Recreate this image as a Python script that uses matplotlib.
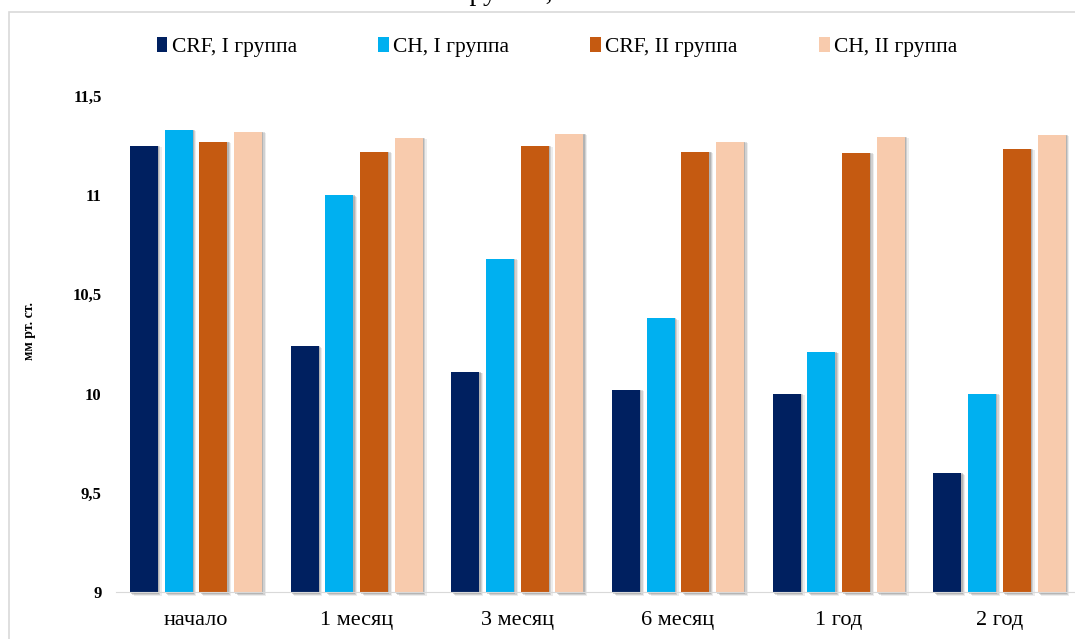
import numpy as np
import matplotlib.pyplot as plt
from matplotlib.patches import Rectangle

plt.rcParams['font.family'] = ['Liberation Serif', 'DejaVu Serif']

periods = ["начало", "1 месяц", "3 месяц", "6 месяц", "1 год", "2 год"]
series_names = ["CRF, I группа", "CH, I группа", "CRF, II группа", "CH, II группа"]
crf_1 = [11.25, 10.24, 10.11, 10.02, 10.00, 9.60]
ch_1 = [11.33, 11.00, 10.68, 10.38, 10.21, 10.00]
crf_2 = [11.27, 11.22, 11.25, 11.22, 11.215, 11.235]
ch_2 = [11.32, 11.29, 11.31, 11.27, 11.295, 11.305]
colors = ["#002060", "#00B0F0", "#C55A11", "#F8CBAD"]

fig = plt.figure(figsize=(10.75, 6.39), dpi=100)
ax = fig.add_axes([0.1075, 0.0736, 0.897, 0.7762])

# light frame around the chart area
fig.patches.append(Rectangle((9 / 1075, -0.01), 1.0, 1 - 12 / 639 + 0.01,
                             transform=fig.transFigure, fill=False,
                             edgecolor="#d9d9d9", linewidth=1.2))

x = np.arange(len(periods))
width = 0.174
pitch = 0.216
for i, (vals, col, name) in enumerate(zip([crf_1, ch_1, crf_2, ch_2], colors, series_names)):
    pos = x + (i - 1.5) * pitch
    heights = np.array(vals) - 9
    # soft drop shadow on the right
    for k, a in enumerate([0.35, 0.25, 0.15]):
        dx = 0.008 + 0.008 * k
        ax.bar(pos + dx, heights + 0.012, width, bottom=9 - 0.012 - 0.004 * k,
               color="#808080", alpha=a, linewidth=0, zorder=1, clip_on=False)
    ax.bar(pos, heights, width, bottom=9, color=col, label=name, zorder=3)

ax.set_xlim(-0.5, 5.5)
ax.set_ylim(9, 11.5)
ax.set_yticks([9, 9.5, 10, 10.5, 11, 11.5])
ax.set_yticklabels(["9", "9,5", "10", "10,5", "11", "11,5"], fontweight="bold", fontsize=12)
ax.set_xticks(x)
ax.set_xticklabels(periods, fontsize=16)
ax.tick_params(axis="both", length=0)
ax.tick_params(axis="y", pad=10)
ax.tick_params(axis="x", pad=14)
for side in ["top", "right", "left"]:
    ax.spines[side].set_visible(False)
ax.spines["bottom"].set_color("#d9d9d9")
ax.spines["bottom"].set_zorder(5)

fig.text(30 / 1075, 1 - 331 / 639, "мм рт. ст.", rotation=90, fontsize=10,
         fontweight="bold", ha="center", va="center")

handles, labels = ax.get_legend_handles_labels()
fig.legend(handles, labels, loc="center", bbox_to_anchor=(0.518, 1 - 47 / 639), ncol=4,
           frameon=False, fontsize=15.5, handlelength=0.5, handleheight=0.7,
           handletextpad=0.2, columnspacing=3.77)

# tail of the title above the frame
fig.text(458 / 1075, 1.0, "группы,", fontsize=20, ha="left", va="baseline")

fig.savefig("out.png", dpi=100)
